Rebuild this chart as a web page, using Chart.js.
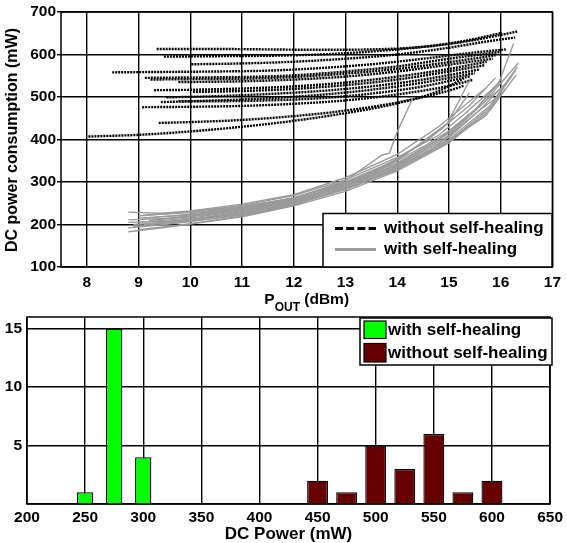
<!DOCTYPE html>
<html>
<head>
<meta charset="utf-8">
<script src="https://cdn.jsdelivr.net/npm/chart.js@4.4.0/dist/chart.umd.min.js"></script>
<style>
  html, body { margin: 0; padding: 0; background: #fff; }
  #top { position: absolute; left: 0; top: 0; width: 567px; height: 316px; z-index: 2; }
  #bottom { position: absolute; left: 0; top: 300px; width: 567px; height: 243px; z-index: 1; }
</style>
</head>
<body>
<div id="top"><canvas id="lineChart"></canvas></div>
<div id="bottom"><canvas id="histChart"></canvas></div>
<script>
// P_OUT (dBm) vs DC power (mW), one curve per chip
const withoutHealing = [
  [[9.35,613],[10.5,613],[11.5,612],[12.5,611],[13.5,612],[14.5,618],[15.3,630],[16.0,646],[16.32,654]],
  [[9.49,595],[10.5,596],[11.5,597],[12.5,600],[13.5,607],[14.5,618],[15.3,632],[16.03,651]],
  [[10.02,577],[11,579],[12,583],[13,590],[14,600],[15,616],[15.7,630],[16.28,640]],
  [[8.49,558],[9.5,559],[10.5,560],[11.5,562],[12.5,568],[13.5,577],[14.5,590],[15.3,602],[16.1,612]],
  [[9.12,545],[10,546],[11,547],[12,551],[13,560],[14,572],[15,590],[16.0,606]],
  [[9.23,541],[10,542],[11,543],[12,547],[13,555],[14,566],[15,582],[15.9,598]],
  [[9.77,535],[11,537],[12,541],[13,548],[14,560],[15,576],[15.85,590]],
  [[9.3,516],[10,517],[11,520],[12,525],[13,534],[14,548],[15,566],[15.73,583]],
  [[10.05,512],[11,514],[12,519],[13,528],[14,541],[15,560],[15.7,575]],
  [[9.54,499],[10.5,502],[11.5,507],[12.5,514],[13.5,525],[14.5,541],[15.6,565]],
  [[9.43,488],[10.5,492],[11.5,497],[12.5,505],[13.5,517],[14.5,534],[15.5,556]],
  [[9.77,490],[10.5,490],[11.5,492],[12.5,497],[13.5,508],[14.5,525],[15.42,549]],
  [[9.07,476],[10,477],[11,479],[12,484],[13,492],[14,506],[15,526],[15.45,540]],
  [[9.39,439],[10,441],[11,446],[12,455],[13,468],[14,487],[15,515],[15.3,527]],
  [[8.03,407],[9,411],[10,419],[11,430],[12,444],[13,462],[14,485],[14.8,514],[15.29,544]]
];
const withHealing = [
  [[8.8,229],[9.5,226],[10,230],[11,243],[12,262],[13,298],[14,345],[14.8,400],[15.5,470],[15.96,532],[16.25,626]],
  [[8.8,211],[9.5,214],[10,220],[11,236],[12,258],[13,293],[14,340],[15,410],[15.7,490],[16.34,580]],
  [[8.8,192],[9.5,200],[10,207],[11,224],[12,250],[13,285],[14,333],[15,400],[15.8,480],[16.32,571]],
  [[8.8,183],[9.5,193],[10,201],[11,218],[12,244],[13,278],[14,326],[15,392],[15.8,470],[16.3,552]],
  [[9.09,222],[10,228],[11,240],[12,262],[13,296],[13.5,318],[14,350],[14.5,383],[15,420],[15.5,468],[16.0,540]],
  [[9.0,215],[10,222],[11,238],[12,260],[13,303],[13.7,363],[13.85,368],[14.0,418],[14.3,497]],
  [[9.0,205],[10,215],[11,233],[12,255],[13,296],[14,350],[14.97,438],[15.42,544]],
  [[9.1,200],[10,212],[11,230],[12,254],[13,290],[14,355],[14.6,400],[15,440],[15.39,509]],
  [[8.9,195],[10,210],[11,228],[12,252],[13,290],[14,342],[15,415],[15.6,480],[16.1,530]],
  [[9.0,220],[10,230],[11,245],[12,268],[13,305],[14,358],[14.8,410],[15.3,460],[15.9,525]],
  [[9.2,210],[10,218],[11,234],[12,257],[13,292],[14,338],[15,405],[15.6,470],[16.2,545]],
  [[8.9,200],[10,208],[11,222],[12,247],[13,282],[14,330],[14.6,370],[15,408],[15.6,470],[16.0,505]],
  [[9.0,188],[10,202],[11,220],[12,246],[13,288],[14,336],[15,398],[15.7,455],[16.1,520]],
  [[9.3,225],[10,232],[11,248],[12,270],[13,310],[14,365],[14.8,430],[15.3,480],[15.7,520]],
  [[8.8,205],[9.5,207],[10,212],[11,226],[12,250],[13,284],[14,330],[15,395],[15.8,475],[16.3,565]],
  [[9.1,215],[10,224],[11,240],[12,263],[13,300],[14,352],[14.8,420],[15.4,480],[15.9,545]]
];

// histogram of DC power (mW)
const binsWith = [250, 275, 300];
const countsWith = [1, 15, 4];
const binsWithout = [450, 475, 500, 525, 550, 575, 600];
const countsWithout = [2, 1, 5, 3, 6, 1, 2];

const FONT = '"Liberation Sans", Arial, Helvetica, sans-serif';
Chart.defaults.font.family = FONT;
Chart.defaults.font.weight = 'bold';
Chart.defaults.font.size = 15.5;
Chart.defaults.color = '#000';
Chart.defaults.animation = false;

const GREY = '#9a9a9a';

function whiteBox(ctx, x, y, w, h) {
  ctx.save();
  ctx.fillStyle = '#fff';
  ctx.fillRect(x, y, w, h);
  ctx.strokeStyle = '#000';
  ctx.lineWidth = 1.5;
  ctx.strokeRect(x, y, w, h);
  ctx.restore();
}

const topDecor = {
  id: 'topDecor',
  afterDatasetsDraw(chart) {
    const ctx = chart.ctx, a = chart.chartArea;
    ctx.save();
    ctx.strokeStyle = '#000';
    ctx.lineWidth = 1.5;
    ctx.strokeRect(a.left, a.top, a.right - a.left, a.bottom - a.top);

    // legend
    whiteBox(ctx, 323, 213.5, 229, 53.5);
    ctx.lineWidth = 3;
    ctx.setLineDash([8, 3.2]);
    ctx.strokeStyle = '#000';
    ctx.beginPath(); ctx.moveTo(335, 228.5); ctx.lineTo(376, 228.5); ctx.stroke();
    ctx.setLineDash([]);
    ctx.strokeStyle = GREY;
    ctx.beginPath(); ctx.moveTo(335, 249.5); ctx.lineTo(376, 249.5); ctx.stroke();
    ctx.fillStyle = '#000';
    ctx.font = 'bold 17px ' + FONT;
    ctx.textBaseline = 'middle';
    ctx.fillText('without self-healing', 384, 228);
    ctx.fillText('with self-healing', 384, 249);

    // y title
    ctx.save();
    ctx.translate(13, 140);
    ctx.rotate(-Math.PI / 2);
    ctx.textAlign = 'center';
    ctx.font = 'bold 16px ' + FONT;
    ctx.fillText('DC power consumption (mW)', 0, 0);
    ctx.restore();

    // x title with subscript
    ctx.textBaseline = 'alphabetic';
    ctx.textAlign = 'left';
    const big = 'bold 15.5px ' + FONT, small = 'bold 12px ' + FONT;
    ctx.font = big; const wP = ctx.measureText('P').width;
    ctx.font = small; const wS = ctx.measureText('OUT').width;
    ctx.font = big; const wR = ctx.measureText(' (dBm)').width;
    const x0 = (a.left + a.right) / 2 - (wP + wS + wR) / 2;
    ctx.font = big; ctx.fillText('P', x0, 303.5);
    ctx.font = small; ctx.fillText('OUT', x0 + wP, 310.5);
    ctx.font = big; ctx.fillText(' (dBm)', x0 + wP + wS, 303.5);
    ctx.restore();
  }
};

const bottomDecor = {
  id: 'bottomDecor',
  afterDatasetsDraw(chart) {
    const ctx = chart.ctx, a = chart.chartArea;
    ctx.save();
    ctx.strokeStyle = '#000';
    ctx.lineWidth = 1.5;
    ctx.strokeRect(a.left, a.top, a.right - a.left, a.bottom - a.top);

    whiteBox(ctx, 360, 18, 192, 47);
    ctx.lineWidth = 1.2;
    ctx.strokeStyle = '#000';
    ctx.fillStyle = '#00ff00';
    ctx.fillRect(364, 21, 22, 17.5); ctx.strokeRect(364, 21, 22, 17.5);
    ctx.fillStyle = '#660000';
    ctx.fillRect(364, 43.5, 22, 18.5); ctx.strokeRect(364, 43.5, 22, 18.5);
    ctx.fillStyle = '#000';
    ctx.font = 'bold 17px ' + FONT;
    ctx.textBaseline = 'middle';
    ctx.fillText('with self-healing', 388, 30.5);
    ctx.fillText('without self-healing', 388, 53);

    ctx.textAlign = 'center';
    ctx.font = 'bold 17px ' + FONT;
    ctx.fillText('DC Power (mW)', (a.left + a.right) / 2, 234);
    ctx.restore();
  }
};

const lineSets = [];
withHealing.forEach(function (c) {
  lineSets.push({ data: c, borderColor: GREY, borderWidth: 1.4, pointRadius: 0, tension: 0, order: 0 });
});
withoutHealing.forEach(function (c) {
  lineSets.push({ data: c, borderColor: '#000', borderWidth: 2.4, borderDash: [2, 1], pointRadius: 0,
    cubicInterpolationMode: 'monotone', order: 1 });
});

new Chart(document.getElementById('lineChart'), {
  type: 'line',
  data: { datasets: lineSets },
  options: {
    responsive: true,
    maintainAspectRatio: false,
    layout: { padding: { top: 12, right: 13, left: 0, bottom: 0 } },
    plugins: { legend: { display: false }, tooltip: { enabled: false } },
    scales: {
      x: {
        type: 'linear', min: 7.5, max: 17,
        ticks: { stepSize: 1, includeBounds: false, padding: 6, maxRotation: 0 },
        grid: { color: '#000', lineWidth: 1.4, drawTicks: false },
        border: { display: false },
        afterFit: function (s) { s.height = 49; }
      },
      y: {
        min: 100, max: 700,
        ticks: { stepSize: 100, padding: 1 },
        grid: { color: '#000', lineWidth: 1.4, tickLength: 4 },
        border: { display: false },
        afterFit: function (s) { s.width = 61; }
      }
    }
  },
  plugins: [topDecor]
});

new Chart(document.getElementById('histChart'), {
  type: 'bar',
  data: {
    datasets: [
      { data: binsWith.map(function (b, i) { return { x: b, y: countsWith[i] }; }),
        backgroundColor: '#00ff00', borderColor: '#000', borderWidth: 1.3, barPercentage: 0.7, grouped: false },
      { data: binsWithout.map(function (b, i) { return { x: b, y: countsWithout[i] }; }),
        backgroundColor: '#660000', borderColor: '#000', borderWidth: 1.3, barPercentage: 0.9, grouped: false }
    ]
  },
  options: {
    responsive: true,
    maintainAspectRatio: false,
    layout: { padding: { top: 17, right: 13, left: 0, bottom: 0 } },
    plugins: { legend: { display: false }, tooltip: { enabled: false } },
    scales: {
      x: {
        type: 'linear', min: 200, max: 650, offset: false,
        ticks: { stepSize: 50, padding: 4, maxRotation: 0 },
        grid: { color: '#000', lineWidth: 1.4, drawTicks: false, offset: false },
        border: { display: false },
        afterFit: function (s) { s.height = 39; }
      },
      y: {
        min: 0, max: 16,
        ticks: { stepSize: 5, includeBounds: false, padding: 5,
          callback: function (v) { return v === 0 ? '' : v; } },
        grid: { color: '#000', lineWidth: 1.4, drawTicks: false },
        border: { display: false },
        afterFit: function (s) { s.width = 27; }
      }
    }
  },
  plugins: [bottomDecor]
});
</script>
</body>
</html>
